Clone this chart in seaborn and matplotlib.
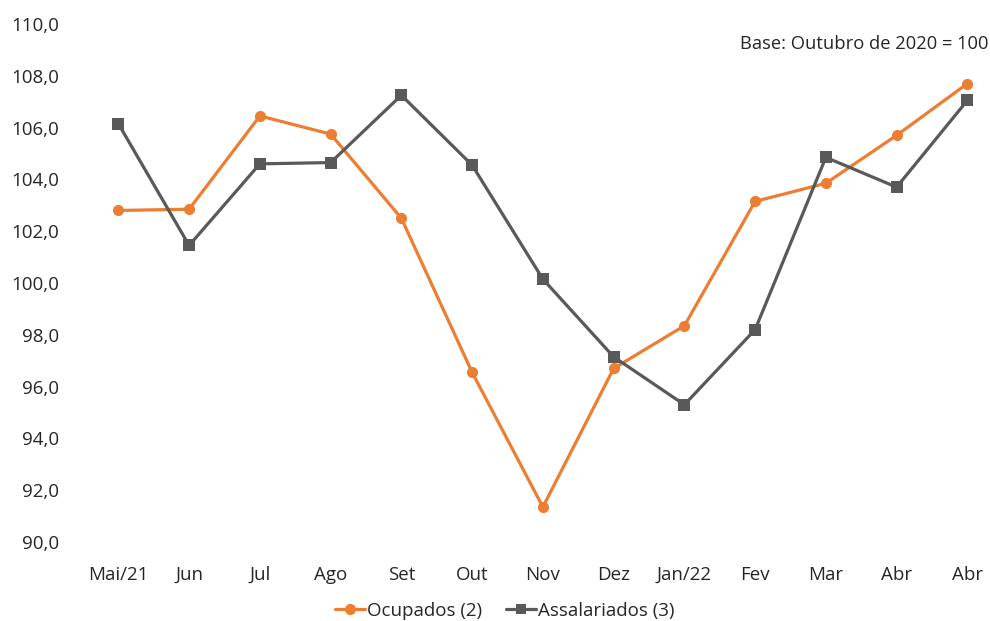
import pandas as pd
import matplotlib.pyplot as plt
import seaborn as sns

months = ['Mai/21', 'Jun', 'Jul', 'Ago', 'Set', 'Out', 'Nov', 'Dez',
          'Jan/22', 'Fev', 'Mar', 'Abr', 'Abr']
ocupados = [102.8, 102.85, 106.45, 105.75, 102.5, 96.55, 91.35, 96.7,
            98.35, 103.15, 103.85, 105.7, 107.7]
assalariados = [106.15, 101.45, 104.6, 104.65, 107.25, 104.55, 100.15, 97.15,
                95.3, 98.2, 104.85, 103.7, 107.05]

names = ['Ocupados (2)', 'Assalariados (3)']
data = pd.DataFrame({
    'pos': list(range(len(months))) * 2,
    'valor': ocupados + assalariados,
    'serie': [names[0]] * len(months) + [names[1]] * len(months),
})

sns.set_style('white')
plt.rcParams['font.family'] = ['Open Sans', 'DejaVu Sans']

palette = {names[0]: '#ED7D31', names[1]: '#595959'}

fig = plt.figure(figsize=(9.9, 6.21), dpi=100)
ax = fig.add_axes([83 / 990, 1 - 542 / 621, 1 - 83 / 990, (542 - 24) / 621])

sns.lineplot(ax=ax, data=data, x='pos', y='valor', hue='serie', style='serie',
             palette=palette, markers={names[0]: 'o', names[1]: 's'},
             dashes=False, linewidth=2.3, markersize=8, markeredgewidth=0,
             legend=False)

ax.set_ylim(90, 110)
ax.set_yticks([90 + 2 * i for i in range(11)])
ax.set_yticklabels([f'{90 + 2 * i},0' for i in range(11)], fontsize=13.5)
ax.set_xlim(-0.5, 12.32)
ax.set_xticks(range(len(months)))
ax.set_xticklabels(months, fontsize=13.5)
ax.tick_params(axis='y', length=0, pad=17)
ax.tick_params(axis='x', length=0, pad=17)
ax.set_xlabel('')
ax.set_ylabel('')
for s in ax.spines.values():
    s.set_visible(False)

fig.text(0.998, 1 - 44 / 621, 'Base: Outubro de 2020 = 100', ha='right',
         va='center', fontsize=13.2)

handles = [plt.Line2D([], [], color=palette[names[0]], marker='o', lw=2.3, ms=8, mew=0),
           plt.Line2D([], [], color=palette[names[1]], marker='s', lw=2.3, ms=7, mew=0)]
fig.legend(handles, names, loc='center', bbox_to_anchor=(0.51, 1 - 611 / 621),
           ncol=2, frameon=False, fontsize=13.5, handlelength=1.6,
           handletextpad=0.1, columnspacing=1.3, borderaxespad=0)

fig.savefig('out.png', dpi=100)
